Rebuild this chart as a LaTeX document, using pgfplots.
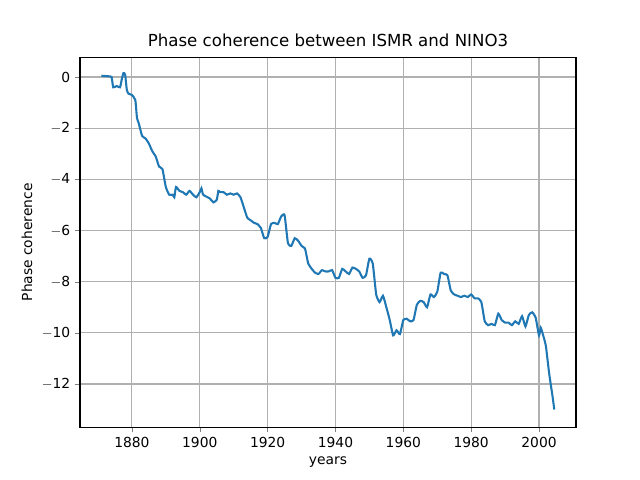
\documentclass[border=0pt]{standalone}
\usepackage{pgfplots}
\pgfplotsset{compat=1.18}
\usepackage{fontspec}
\setmainfont{DejaVu Sans}
\definecolor{tabblue}{HTML}{1F77B4}
\begin{document}
\begin{tikzpicture}
\path (-0.8in,-0.528in) rectangle (5.6in,4.272in);
\begin{axis}[at={(0,0)},anchor=south west,scale only axis,width=4.96in,height=3.696in,
xmin=1864.7,xmax=2010.9,ymin=-13.69,ymax=0.76,
xtick={1880,1900,...,2000},ytick={-12,-10,...,0},
xticklabel style={/pgf/number format/1000 sep={}},
/pgf/number format/assume math mode=true,
ticklabel style={font=\fontsize{10}{12}\selectfont},
yticklabels={$-$12,$-$10,$-$8,$-$6,$-$4,$-$2,0},
tick align=outside,tick pos=left,major tick length=3.5pt,
grid=major,grid style={color=black!31,line width=0.8pt},
axis line style={line width=0.8pt},
title={Phase coherence between ISMR and NINO3},
title style={font=\fontsize{12}{14}\selectfont,yshift=-2pt},
xlabel={years},ylabel={Phase coherence},
label style={font=\fontsize{10}{12}\selectfont},
]
\addplot[tabblue,line width=1.5pt,smooth,tension=0.3] coordinates {
(1871,0.05)(1873,0.03)(1874,0)(1874.5,-0.4)(1875.5,-0.35)(1876.5,-0.4)(1877,-0.1)(1877.5,0.15)(1878,0.1)(1878.5,-0.5)(1879,-0.65)(1880,-0.7)(1881,-0.9)(1881.5,-1.6)(1882,-1.8)(1883,-2.3)(1884,-2.4)(1885,-2.6)(1886,-2.9)(1887,-3.1)(1888,-3.5)(1889,-3.6)(1890,-4.3)(1891,-4.6)(1892,-4.6)(1892.5,-4.7)(1893,-4.3)(1894,-4.45)(1895,-4.5)(1896,-4.6)(1897,-4.45)(1898,-4.6)(1899,-4.7)(1900,-4.5)(1900.5,-4.35)(1901,-4.6)(1903,-4.75)(1904,-4.9)(1905,-4.8)(1905.5,-4.45)(1906,-4.5)(1907,-4.5)(1908,-4.6)(1909,-4.55)(1910,-4.6)(1911,-4.55)(1912,-4.7)(1913,-5.1)(1914,-5.5)(1915,-5.6)(1916,-5.7)(1917,-5.75)(1918,-5.9)(1919,-6.3)(1920,-6.25)(1921,-5.75)(1922,-5.7)(1923,-5.75)(1924,-5.45)(1925,-5.4)(1926,-6.5)(1927,-6.6)(1928,-6.3)(1929,-6.4)(1930,-6.6)(1931,-6.7)(1931.5,-7.0)(1932,-7.3)(1933,-7.5)(1934,-7.65)(1935,-7.7)(1936,-7.55)(1937,-7.6)(1938,-7.6)(1939,-7.55)(1940,-7.85)(1941,-7.85)(1942,-7.5)(1943,-7.6)(1944,-7.7)(1945,-7.45)(1946,-7.5)(1947,-7.6)(1948,-7.85)(1949,-7.75)(1950,-7.1)(1951,-7.3)(1952,-8.5)(1953,-8.8)(1954,-8.55)(1955,-9.0)(1956,-9.5)(1957,-10.1)(1958,-9.9)(1959,-10.05)(1960,-9.5)(1961,-9.45)(1962,-9.55)(1963,-9.5)(1964,-8.9)(1965,-8.75)(1966,-8.8)(1967,-9.0)(1968,-8.5)(1969,-8.6)(1970,-8.4)(1971,-7.65)(1972,-7.7)(1973,-7.75)(1974,-8.35)(1975,-8.5)(1976,-8.55)(1977,-8.6)(1978,-8.55)(1979,-8.6)(1980,-8.5)(1981,-8.65)(1982,-8.65)(1983,-8.8)(1984,-9.55)(1985,-9.7)(1986,-9.65)(1987,-9.7)(1988,-9.25)(1989,-9.5)(1990,-9.6)(1991,-9.6)(1992,-9.7)(1993,-9.55)(1994,-9.65)(1995,-9.35)(1996,-9.75)(1997,-9.3)(1998,-9.2)(1999,-9.4)(2000,-10.1)(2000.5,-9.8)(2001,-10.0)(2002,-10.5)(2003,-11.6)(2004,-12.5)(2004.5,-13.0)
};
\end{axis}
\end{tikzpicture}
\end{document}
